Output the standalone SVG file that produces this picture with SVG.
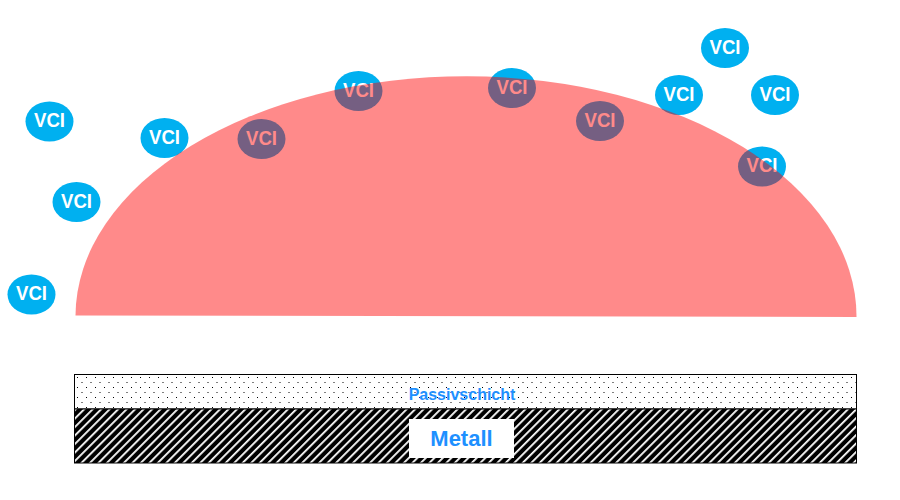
<svg xmlns="http://www.w3.org/2000/svg" width="900" height="500" viewBox="0 0 900 500">
<defs>
<pattern id="dots" width="9" height="10" patternUnits="userSpaceOnUse" x="74" y="374">
<rect width="9" height="10" fill="#fff"/>
<rect x="3" y="3" width="1" height="1" fill="#000"/>
<rect x="7.5" y="8" width="1" height="1" fill="#000"/>
</pattern>
<pattern id="hatch" width="6" height="6" patternUnits="userSpaceOnUse" patternTransform="rotate(45)">
<rect width="6" height="6" fill="#000"/>
<rect x="0" y="0" width="1.8" height="6" fill="#fff"/>
</pattern>
<style>
.vci ellipse{fill:#00b0f0}
.vci text{fill:#fff;font-family:"Liberation Sans",Arial,sans-serif;font-weight:bold;font-size:20.5px;text-anchor:middle}
.lbl{fill:#1e90ff;font-family:"Liberation Sans",Arial,sans-serif;font-weight:bold;text-anchor:middle}
</style>
</defs>
<rect width="900" height="500" fill="#fff"/>
<g id="vci1" class="vci"><ellipse cx="49.5" cy="121.5" rx="24" ry="20"/><text x="49.5" y="127" textLength="31" lengthAdjust="spacingAndGlyphs">VCI</text></g>
<g id="vci2" class="vci"><ellipse cx="76.5" cy="202" rx="24" ry="20"/><text x="76.5" y="207.5" textLength="31" lengthAdjust="spacingAndGlyphs">VCI</text></g>
<g id="vci3" class="vci"><ellipse cx="31.5" cy="294.5" rx="24" ry="20"/><text x="31.5" y="300" textLength="31" lengthAdjust="spacingAndGlyphs">VCI</text></g>
<g id="vci4" class="vci"><ellipse cx="164.5" cy="138" rx="24" ry="20"/><text x="164.5" y="143.5" textLength="31" lengthAdjust="spacingAndGlyphs">VCI</text></g>
<g id="vci5" class="vci"><ellipse cx="261.5" cy="139" rx="24" ry="20"/><text x="261.5" y="144.5" textLength="31" lengthAdjust="spacingAndGlyphs">VCI</text></g>
<g id="vci6" class="vci"><ellipse cx="358.5" cy="91" rx="24" ry="20"/><text x="358.5" y="96.5" textLength="31" lengthAdjust="spacingAndGlyphs">VCI</text></g>
<g id="vci7" class="vci"><ellipse cx="512" cy="88" rx="24" ry="20"/><text x="512" y="93.5" textLength="31" lengthAdjust="spacingAndGlyphs">VCI</text></g>
<g id="vci8" class="vci"><ellipse cx="600" cy="121" rx="24" ry="20"/><text x="600" y="126.5" textLength="31" lengthAdjust="spacingAndGlyphs">VCI</text></g>
<g id="vci9" class="vci"><ellipse cx="679" cy="95" rx="24" ry="20"/><text x="679" y="100.5" textLength="31" lengthAdjust="spacingAndGlyphs">VCI</text></g>
<g id="vci10" class="vci"><ellipse cx="725" cy="48" rx="24" ry="20"/><text x="725" y="53.5" textLength="31" lengthAdjust="spacingAndGlyphs">VCI</text></g>
<g id="vci11" class="vci"><ellipse cx="775" cy="95" rx="24" ry="20"/><text x="775" y="100.5" textLength="31" lengthAdjust="spacingAndGlyphs">VCI</text></g>
<g id="vci12" class="vci"><ellipse cx="762" cy="166.5" rx="24" ry="20"/><text x="762" y="172" textLength="31" lengthAdjust="spacingAndGlyphs">VCI</text></g>
<g id="droplet"><path d="M75.5,315.5 A390.5,240 0 0 1 856.5,317 Z" fill="#ff0000" fill-opacity="0.46"/></g>
<g id="passivschicht">
<rect x="74.5" y="374.5" width="782" height="34.5" fill="url(#dots)" stroke="#000" stroke-width="1"/>
<text class="lbl" x="462" y="400" font-size="16">Passivschicht</text>
</g>
<g id="metall">
<rect x="74.5" y="409" width="782" height="54" fill="url(#hatch)" stroke="#000" stroke-width="1"/>
<rect x="409" y="419" width="105" height="39" fill="#fff"/>
<text class="lbl" x="461.5" y="446" font-size="22">Metall</text>
</g>
<g id="connectors"/>
</svg>
